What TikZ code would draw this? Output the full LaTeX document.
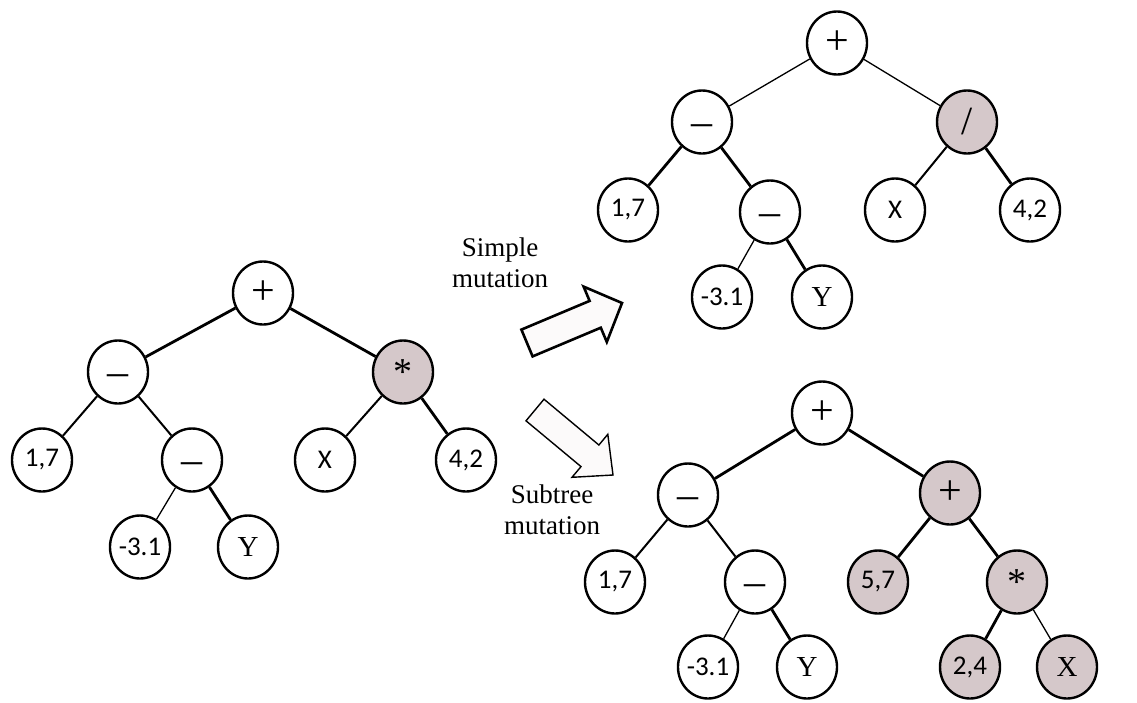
\documentclass[tikz,border=0pt]{standalone}
\usepackage{fontspec}
\setmainfont{Liberation Serif}
\newfontfamily\carl{Carlito}
\usetikzlibrary{shapes.geometric}
\definecolor{shade}{RGB}{213,200,202}
\definecolor{arrowfill}{RGB}{252,250,250}
\tikzset{
  nd/.style={ellipse, draw=black, line width=2.4pt, fill=white, minimum width=60pt, minimum height=63pt, inner sep=0pt},
  sh/.style={nd, fill=shade},
  ops/.style={font=\fontsize{42}{42}\selectfont},
  star/.style={font=\fontsize{38}{38}\selectfont},
  slash/.style={font=\fontsize{40}{40}\selectfont},
  dsh/.style={font=\fontsize{42}{42}\selectfont, text height=26pt, text depth=0pt},
  num/.style={font=\carl\fontsize{27}{27}\selectfont},
  ser/.style={font=\fontsize{29}{29}\selectfont},
  ethin/.style={line width=1.3pt},
  emed/.style={line width=2pt},
  ethick/.style={line width=2.8pt},
  blockarrow/.style={draw=black, fill=arrowfill, line join=miter},
  lbl/.style={align=center, font=\fontsize{27}{31}\selectfont}
}
\begin{document}
\begin{tikzpicture}[x=1pt,y=-1pt]
\useasboundingbox (0,0) rectangle (1137,702);
% ---------- left tree ----------
\node[nd,ops] (La) at (263,293) {+};
\node[nd,dsh] (Lb) at (118,372) {–};
\node[sh,star] (Lc) at (403,372) {*};
\node[nd,num] (Ld) at (42,460) {1,7};
\node[nd,dsh] (Le) at (192,460) {–};
\node[nd,num] (Lf) at (325,460) {X};
\node[nd,num] (Lg) at (466,460) {4,2};
\node[nd,num] (Lh) at (140,547) {-3.1};
\node[nd,ser] (Li) at (248,547) {Y};
\draw[ethick] (La) -- (Lb);
\draw[ethick] (La) -- (Lc);
\draw[emed] (Lb) -- (Ld);
\draw[emed] (Lb) -- (Le);
\draw[emed] (Lc) -- (Lf);
\draw[ethick] (Lc) -- (Lg);
\draw[ethin] (Le) -- (Lh);
\draw[ethick] (Le) -- (Li);
% ---------- top right tree ----------
\node[nd,ops] (Ta) at (837,43) {+};
\node[nd,dsh] (Tb) at (702,122) {–};
\node[sh,slash] (Tc) at (967,122) {/};
\node[nd,num] (Td) at (628,210) {1,7};
\node[nd,dsh] (Te) at (770,212) {–};
\node[nd,num] (Tf) at (895,210) {X};
\node[nd,num] (Tg) at (1030,210) {4,2};
\node[nd,num] (Th) at (722,297) {-3.1};
\node[nd,ser] (Ti) at (822,297) {Y};
\draw[ethin] (Ta) -- (Tb);
\draw[ethin] (Ta) -- (Tc);
\draw[ethick] (Tb) -- (Td);
\draw[ethick] (Tb) -- (Te);
\draw[emed] (Tc) -- (Tf);
\draw[ethick] (Tc) -- (Tg);
\draw[ethin] (Te) -- (Th);
\draw[ethick] (Te) -- (Ti);
% ---------- bottom right tree ----------
\node[nd,ops] (Ba) at (822,413) {+};
\node[nd,dsh] (Bb) at (688,495) {–};
\node[sh,ops] (Bc) at (950,493) {+};
\node[nd,num] (Bd) at (615,582) {1,7};
\node[nd,dsh] (Be) at (755,582) {–};
\node[sh,num] (Bf) at (878,582) {5,7};
\node[sh,star] (Bg) at (1017,582) {*};
\node[nd,num] (Bh) at (708,667) {-3.1};
\node[nd,ser] (Bi) at (807,667) {Y};
\node[sh,num] (Bj) at (970,667) {2,4};
\node[sh,ser] (Bk) at (1067,667) {X};
\draw[ethick] (Ba) -- (Bb);
\draw[ethick] (Ba) -- (Bc);
\draw[emed] (Bb) -- (Bd);
\draw[emed] (Bb) -- (Be);
\draw[ethick] (Bc) -- (Bf);
\draw[ethick] (Bc) -- (Bg);
\draw[ethin] (Be) -- (Bh);
\draw[ethick] (Be) -- (Bi);
\draw[ethick] (Bg) -- (Bj);
\draw[ethin] (Bg) -- (Bk);
% ---------- arrows and labels ----------
\draw[blockarrow, line width=2.6pt] (521.4,329.6) -- (589.6,300.9) -- (583.6,286.6) -- (622,303) -- (606.8,342) -- (600.8,327.7) -- (532.6,356.4) -- cycle;
\draw[blockarrow, line width=1.4pt] (544,399.2) -- (598.9,445) -- (607.8,434.3) -- (613,475) -- (572,477.3) -- (581,466.6) -- (526,420.8) -- cycle;
\node[lbl] (simple) at (500,263) {Simple\\mutation};
\node[lbl] (subtree) at (552,510) {Subtree\\mutation};
\end{tikzpicture}
\end{document}
